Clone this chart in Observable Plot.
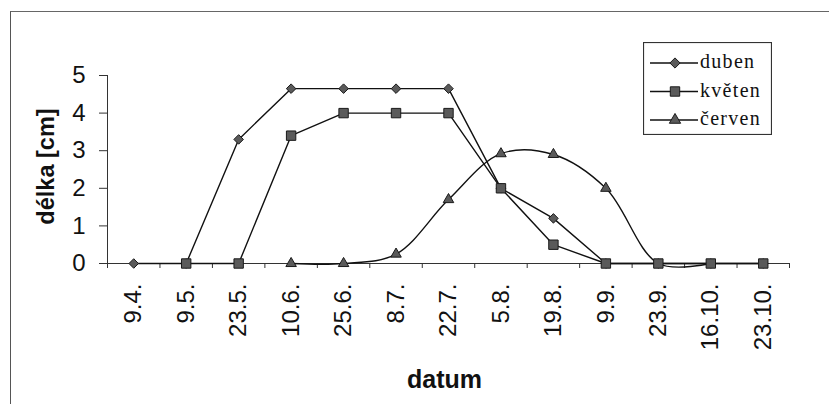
<!DOCTYPE html>
<html><head><meta charset="utf-8">
<script src="https://cdn.jsdelivr.net/npm/d3@7"></script>
<script src="https://cdn.jsdelivr.net/npm/@observablehq/plot@0.6"></script>
<style>
body{margin:0;background:#fff;}
#wrap{position:relative;width:829px;height:404px;overflow:hidden;}
#frame{position:absolute;left:10px;top:11px;width:840px;height:420px;border-left:1.5px solid #555;border-top:1.5px solid #666;pointer-events:none;}
#legend{position:absolute;left:643px;top:42px;}
#chart{position:absolute;left:0;top:0;}
</style></head>
<body>
<div id="wrap"><div id="chart"></div><div id="frame"></div><div id="legend"></div></div>
<script>
const dates = ["9.4.","9.5.","23.5.","10.6.","25.6.","8.7.","22.7.","5.8.","19.8.","9.9.","23.9.","16.10.","23.10."];
const duben  = [0, 0, 3.3, 4.65, 4.65, 4.65, 4.65, 2.0, 1.2, 0, 0, 0, 0];
const kveten = [null, 0, 0, 3.4, 4.0, 4.0, 4.0, 2.0, 0.5, 0, 0, 0, 0];
const cerven = [null, null, null, 0, 0, 0.25, 1.7, 2.92, 2.9, 2.0, 0, 0, null];
const seriesNames = ["duben", "květen", "červen"];
const yTicks = [0, 1, 2, 3, 4, 5];

const toRows = (vals, name) => vals.map((v, i) => ({i, v, series: name})).filter(d => d.v != null);
const rowsD = toRows(duben, seriesNames[0]);
const rowsK = toRows(kveten, seriesNames[1]);
const rowsC = toRows(cerven, seriesNames[2]);
// triangles hidden under squares in the original
const rowsCdots = rowsC.filter(d => kveten[d.i] !== d.v);

const xDomain = [-0.5, dates.length - 0.5];
const boundaries = d3.range(xDomain[0], xDomain[1] + 0.01, 1);
const centers = d3.range(dates.length);

const markerFill = "#5a5a5a", markerStroke = "#1a1a1a";
const rD = 4.3, rK = 5.3, rC = 3.9;

const plot = Plot.plot({
  width: 829, height: 404,
  marginLeft: 107, marginRight: 40, marginTop: 75, marginBottom: 141,
  x: {domain: xDomain},
  y: {domain: [0, 5]},
  style: {fontFamily: "Arial, 'Liberation Sans', sans-serif", fontSize: "18px", background: "transparent", color: "#111", overflow: "visible"},
  marks: [
    Plot.axisY({ticks: yTicks, tickFormat: d3.format("d"), tickSize: 8, tickPadding: 14, fontSize: 24, label: null, stroke: "#333"}),
    Plot.ruleX([xDomain[0]], {stroke: "#333", strokeWidth: 1}),
    Plot.ruleY([0], {stroke: "#333", strokeWidth: 1}),
    Plot.axisX({ticks: boundaries, tickFormat: () => "", tickSize: 5, label: null, stroke: "#333"}),
    Plot.axisX({ticks: centers, tickFormat: i => dates[i], tickSize: 0, tickRotate: -90, tickPadding: 20, fontSize: 24, label: null}),
    Plot.text(["datum"], {frameAnchor: "bottom", lineAnchor: "bottom", dx: -4, dy: 124, fontSize: 25, fontWeight: "bold", fill: "#111"}),
    Plot.text(["délka [cm]"], {frameAnchor: "left", textAnchor: "middle", lineAnchor: "middle", dx: -61, dy: -3, rotate: -90, fontSize: 23.5, fontWeight: "bold", fill: "#111"}),
    Plot.line(rowsD, {x: "i", y: "v", stroke: "#111", strokeWidth: 1.4}),
    Plot.line(rowsK, {x: "i", y: "v", stroke: "#111", strokeWidth: 1.4}),
    Plot.line(rowsC, {x: "i", y: "v", stroke: "#111", strokeWidth: 1.4, curve: "catmull-rom"}),
    Plot.dot(rowsD, {x: "i", y: "v", symbol: "diamond2", r: rD, fill: markerFill, stroke: markerStroke, strokeWidth: 1}),
    Plot.dot(rowsCdots, {x: "i", y: "v", symbol: "triangle", r: rC, fill: markerFill, stroke: markerStroke, strokeWidth: 1}),
    Plot.dot(rowsK, {x: "i", y: "v", symbol: "square", r: rK, fill: markerFill, stroke: markerStroke, strokeWidth: 1})
  ]
});
document.getElementById("chart").appendChild(plot);

// legend
const symbols = [d3.symbolDiamond2, d3.symbolSquare, d3.symbolTriangle];
const rs = [rD + 0.3, rK, rC + 0.3];
const lw = 129, lh = 93;
const lsvg = d3.select("#legend").append("svg").attr("width", lw).attr("height", lh);
lsvg.append("rect").attr("x", 0.5).attr("y", 0.5).attr("width", lw - 1).attr("height", lh - 1)
  .attr("fill", "#fff").attr("stroke", "#333").attr("stroke-width", 1.2);
seriesNames.forEach((name, k) => {
  const y = 21 + k * 28.5;
  const g = lsvg.append("g");
  g.append("line").attr("x1", 7).attr("x2", 55).attr("y1", y).attr("y2", y).attr("stroke", "#111").attr("stroke-width", 1.4);
  g.append("path").attr("transform", `translate(32,${y})`)
    .attr("d", d3.symbol(symbols[k], Math.PI * rs[k] * rs[k])())
    .attr("fill", markerFill).attr("stroke", markerStroke).attr("stroke-width", 1);
  g.append("text").attr("x", 57).attr("y", y + 5).text(name)
    .attr("font-family", "'Liberation Serif', 'Times New Roman', serif").attr("font-size", 20)
    .attr("letter-spacing", "1.3px").attr("fill", "#111");
});
</script>
</body></html>
